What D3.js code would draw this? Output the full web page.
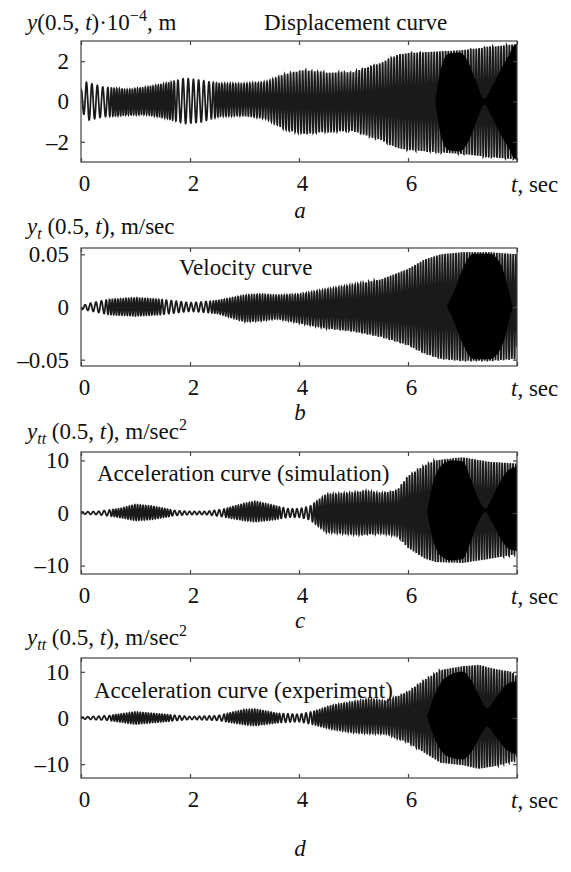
<!DOCTYPE html>
<html>
<head>
<meta charset="utf-8">
<script src="https://cdn.jsdelivr.net/npm/d3@7"></script>
<style>
  body { margin: 0; background: #fff; }
  svg text { font-family: "Liberation Serif", "Times New Roman", Times, serif; fill: #111; }
</style>
</head>
<body>
<div id="chart"></div>
<script>
// envelope knots, t in sec
var tA = [0, 0.1, 0.4, 0.85, 1.2, 1.55, 1.9, 2.2, 2.55, 3.0, 3.4, 3.75, 4.1, 4.5, 5.0, 5.15, 5.5, 5.8, 6.0, 6.5, 7.0, 7.5, 8.0]
var upA = [0.6, 0.95, 0.72, 0.58, 0.7, 0.87, 1.15, 1.05, 0.88, 0.88, 0.96, 1.35, 1.55, 1.42, 1.45, 1.6, 1.9, 2.3, 2.4, 2.47, 2.55, 2.7, 2.85]
var loA = [-0.3, -0.95, -0.76, -0.66, -0.64, -0.8, -1.1, -1.02, -0.72, -0.69, -0.85, -1.4, -1.6, -1.5, -1.45, -1.6, -1.9, -2.3, -2.4, -2.5, -2.6, -2.75, -2.88]
var ftA = [0, 0.45, 0.6, 1.65, 1.8, 2.35, 2.5, 4, 6, 8]
var fA = [10, 10, 21, 21, 10.5, 10.5, 20, 18, 19, 20]
var lensTA = [6.5, 6.6, 6.75, 6.95, 7.1, 7.25, 7.4, 7.55, 7.7, 7.85, 7.95, 8.0]
var lensA = [0, 1.6, 2.4, 2.45, 2.0, 1.0, 0.15, 0.8, 1.6, 2.3, 2.8, 2.85]

var tB = [0, 0.2, 0.5, 1.0, 1.5, 2.0, 2.5, 3.0, 3.3, 3.6, 4.0, 4.5, 5.0, 5.5, 6.0, 6.3, 6.6, 7.0, 7.5, 8.0]
var upB = [0.001, 0.004, 0.007, 0.0086, 0.007, 0.004, 0.006, 0.011, 0.012, 0.011, 0.012, 0.0166, 0.021, 0.026, 0.036, 0.045, 0.05, 0.052, 0.052, 0.05]
var loB = [-0.002, -0.004, -0.007, -0.0083, -0.007, -0.004, -0.006, -0.0137, -0.013, -0.011, -0.015, -0.02, -0.023, -0.028, -0.036, -0.044, -0.049, -0.051, -0.051, -0.049]
var ftB = [0, 0.4, 0.55, 1.4, 1.55, 2.3, 2.45, 8]
var fB = [10, 10, 20, 20, 11, 11, 20, 20]
var lensTB = [6.72, 6.85, 7.0, 7.2, 7.5, 7.7, 7.85, 7.92]
var lensB = [0.001, 0.015, 0.035, 0.05, 0.05, 0.04, 0.015, 0]

var tC = [0, 0.3, 0.7, 1.0, 1.3, 1.7, 2.0, 2.3, 2.6, 3.0, 3.2, 3.5, 3.8, 4.0, 4.2, 4.5, 5.0, 5.2, 5.5, 5.8, 6.0, 6.3, 6.5, 7.0, 7.5, 8.0]
var upC = [0.2, 0.3, 0.8, 1.6, 1.3, 0.5, 0.3, 0.3, 0.7, 1.8, 2.2, 1.5, 0.8, 0.8, 1.3, 3.5, 3.8, 4.2, 3.7, 4.3, 7.0, 9.0, 10.0, 10.6, 9.7, 9.4]
var loC = [-0.2, -0.3, -0.8, -1.4, -1.2, -0.5, -0.3, -0.3, -0.7, -1.4, -1.6, -1.3, -0.8, -0.8, -1.3, -3.6, -4.0, -4.1, -3.8, -4.3, -6.6, -8.6, -9.3, -9.5, -8.7, -7.8]
var ftC = [0, 0.5, 0.6, 1.6, 1.7, 2.6, 2.7, 3.6, 3.7, 4.2, 4.3, 8]
var fC = [10, 10, 20, 20, 11, 11, 20, 20, 12, 12, 20, 20]
var lensTC = [6.35, 6.45, 6.6, 6.8, 7.0, 7.15, 7.3, 7.42, 7.55, 7.7, 7.85, 8.0]
var lensC = [0, 5, 8.5, 9.5, 9.3, 6, 2, 0.3, 2.5, 5.5, 7.5, 8]

var tD = [0, 0.5, 1.0, 1.5, 2.0, 2.5, 3.0, 3.2, 3.6, 4.0, 4.3, 4.6, 5.0, 5.3, 5.6, 6.0, 6.3, 6.6, 7.0, 7.3, 7.6, 7.9, 8.0]
var upD = [0.2, 0.5, 1.3, 0.8, 0.3, 0.5, 1.8, 1.9, 1.0, 0.8, 1.5, 2.7, 3.5, 4.1, 3.6, 5.7, 8.2, 10.4, 11.2, 11.5, 10.6, 10.0, 9.0]
var loD = [-0.2, -0.5, -1.3, -0.8, -0.3, -0.5, -1.4, -1.6, -1.0, -0.8, -1.5, -2.4, -3.1, -3.3, -3.4, -5.3, -7.5, -9.7, -10.2, -11.0, -10.4, -9.5, -9.0]
var ftD = [0, 0.5, 0.6, 1.6, 1.7, 2.6, 2.7, 3.6, 3.7, 4.2, 4.3, 8]
var fD = [10, 10, 20, 20, 11, 11, 20, 20, 12, 12, 20, 20]
var lensTD = [6.35, 6.5, 6.7, 7.0, 7.2, 7.35, 7.45, 7.6, 7.8, 8.0]
var lensD = [0, 5, 8.5, 9.5, 7, 3.5, 2, 4, 7, 8]

var xTicks = [0, 2, 4, 6, 8]

var W = 571, H = 872, FS = 23
var svg = d3.select("#chart").append("svg").attr("width", W).attr("height", H)
var x = d3.scaleLinear().domain([0, 8]).range([81, 517])

function fmt(v) { return v < 0 ? "\u2013" + Math.abs(v) : String(v) }

function signal(t, up, lo, ft, f, phase0) {
  var u = d3.scaleLinear().domain(t).range(up)
  var l = d3.scaleLinear().domain(t).range(lo)
  var fr = d3.scaleLinear().domain(ft).range(f)
  var pts = [], phase = phase0, n = 6000, dt = 8 / n
  for (var i = 0; i <= n; i++) {
    var ti = i * dt, a = u(ti), b = l(ti)
    pts.push([ti, (a + b) / 2 + (a - b) / 2 * Math.sin(phase)])
    phase += 2 * Math.PI * fr(ti) * dt
  }
  return pts
}

function panel(p, idx) {
  var y = d3.scaleLinear().domain(p.domain).range([p.bottom, p.top])
  var g = svg.append("g")

  g.append("clipPath").attr("id", "clip" + idx)
    .append("rect").attr("x", x(0)).attr("y", p.top).attr("width", x(8) - x(0)).attr("height", p.bottom - p.top)

  var plot = g.append("g").attr("clip-path", "url(#clip" + idx + ")")
  var pts = signal(p.t, p.up, p.lo, p.ft, p.f, p.phase)
  plot.append("path")
    .attr("d", d3.line().x(d => x(d[0])).y(d => y(d[1]))(pts))
    .attr("fill", "none").attr("stroke", "#1a1a1a").attr("stroke-width", 1.75)

  var u = d3.scaleLinear().domain(p.t).range(p.up)
  var l = d3.scaleLinear().domain(p.t).range(p.lo)
  var lens = p.lensT.map((t, i) => ({ t: t, c: (u(t) + l(t)) / 2, h: p.lens[i] }))
  plot.append("path")
    .attr("d", d3.area().curve(d3.curveMonotoneX)
      .x(d => x(d.t)).y0(d => y(d.c - d.h)).y1(d => y(d.c + d.h))(lens))
    .attr("fill", "#000")

  // box
  g.append("rect").attr("x", x(0)).attr("y", p.top).attr("width", x(8) - x(0)).attr("height", p.bottom - p.top)
    .attr("fill", "none").attr("stroke", "#444").attr("stroke-width", 1.2)

  var bottom = g.append("g").attr("transform", "translate(0," + p.bottom + ")")
    .call(d3.axisBottom(x).tickValues(xTicks).tickSizeInner(-4).tickSizeOuter(0).tickPadding(13)
      .tickFormat(d => d === 8 ? "" : d))
  var top = g.append("g").attr("transform", "translate(0," + p.top + ")")
    .call(d3.axisTop(x).tickValues(xTicks).tickSizeInner(-4).tickSizeOuter(0).tickFormat(""))
  var left = g.append("g").attr("transform", "translate(" + x(0) + ",0)")
    .call(d3.axisLeft(y).tickValues(p.ticks).tickSizeInner(-4).tickSizeOuter(0).tickPadding(12).tickFormat(fmt))
  var right = g.append("g").attr("transform", "translate(" + x(8) + ",0)")
    .call(d3.axisRight(y).tickValues(p.ticks).tickSizeInner(-4).tickSizeOuter(0).tickFormat(""))
  ;[bottom, top, left, right].forEach(a => {
    a.attr("font-family", null).attr("font-size", null)
    a.select(".domain").remove()
    a.selectAll("line").attr("stroke", "#444").attr("stroke-width", 1.2)
    a.selectAll("text").attr("font-size", FS).attr("fill", "#111")
  })
  bottom.selectAll("text").attr("dx", 3)

  var tl = g.append("text").attr("x", 511).attr("y", p.bottom + 30).attr("font-size", FS)
  tl.append("tspan").attr("font-style", "italic").text("t")
  tl.append("tspan").text(", sec")

  g.append("text").attr("x", 300).attr("y", p.letterY).attr("text-anchor", "middle")
    .attr("font-size", FS).attr("font-style", "italic").text(p.letter)

  g.append("text").attr("x", p.titleX).attr("y", p.titleY).attr("font-size", FS).text(p.title)

  var yl = g.append("text").attr("x", 27).attr("y", p.labelY).attr("font-size", FS)
  p.label(yl)
}

function labA(t) {
  t.append("tspan").attr("font-style", "italic").text("y")
  t.append("tspan").text("(0.5, ")
  t.append("tspan").attr("font-style", "italic").text("t")
  t.append("tspan").text(")\u00b710")
  t.append("tspan").attr("font-size", 16).attr("dy", -9).text("\u22124")
  t.append("tspan").attr("dy", 9).text(", m")
}
function labB(t) {
  t.append("tspan").attr("font-style", "italic").text("y")
  t.append("tspan").attr("font-style", "italic").attr("font-size", 16).attr("dy", 5).text("t")
  t.append("tspan").attr("dy", -5).text(" (0.5, ")
  t.append("tspan").attr("font-style", "italic").text("t")
  t.append("tspan").text("), m/sec")
}
function labC(t) {
  t.append("tspan").attr("font-style", "italic").text("y")
  t.append("tspan").attr("font-style", "italic").attr("font-size", 16).attr("dy", 5).text("tt")
  t.append("tspan").attr("dy", -5).text(" (0.5, ")
  t.append("tspan").attr("font-style", "italic").text("t")
  t.append("tspan").text("), m/sec")
  t.append("tspan").attr("font-size", 16).attr("dy", -9).text("2")
}

var panels = [
  { top: 41, bottom: 162, domain: [-3, 3], ticks: [-2, 0, 2], t: tA, up: upA, lo: loA, ft: ftA, f: fA, phase: Math.PI / 2,
    lensT: lensTA, lens: lensA, letter: "a", letterY: 218, title: "Displacement curve", titleX: 264, titleY: 30, labelY: 30, label: labA },
  { top: 248, bottom: 366, domain: [-0.056, 0.056], ticks: [-0.05, 0, 0.05], t: tB, up: upB, lo: loB, ft: ftB, f: fB, phase: Math.PI,
    lensT: lensTB, lens: lensB, letter: "b", letterY: 420, title: "Velocity curve", titleX: 179, titleY: 275, labelY: 234, label: labB },
  { top: 452, bottom: 574, domain: [-11.6, 11.6], ticks: [-10, 0, 10], t: tC, up: upC, lo: loC, ft: ftC, f: fC, phase: 0,
    lensT: lensTC, lens: lensC, letter: "c", letterY: 628, title: "Acceleration curve (simulation)", titleX: 97, titleY: 481, labelY: 439, label: labC },
  { top: 658, bottom: 778, domain: [-13, 13], ticks: [-10, 0, 10], t: tD, up: upD, lo: loD, ft: ftD, f: fD, phase: 0,
    lensT: lensTD, lens: lensD, letter: "d", letterY: 856, title: "Acceleration curve (experiment)", titleX: 94, titleY: 698, labelY: 645, label: labC }
]
panels.forEach(panel)
</script>
</body>
</html>
